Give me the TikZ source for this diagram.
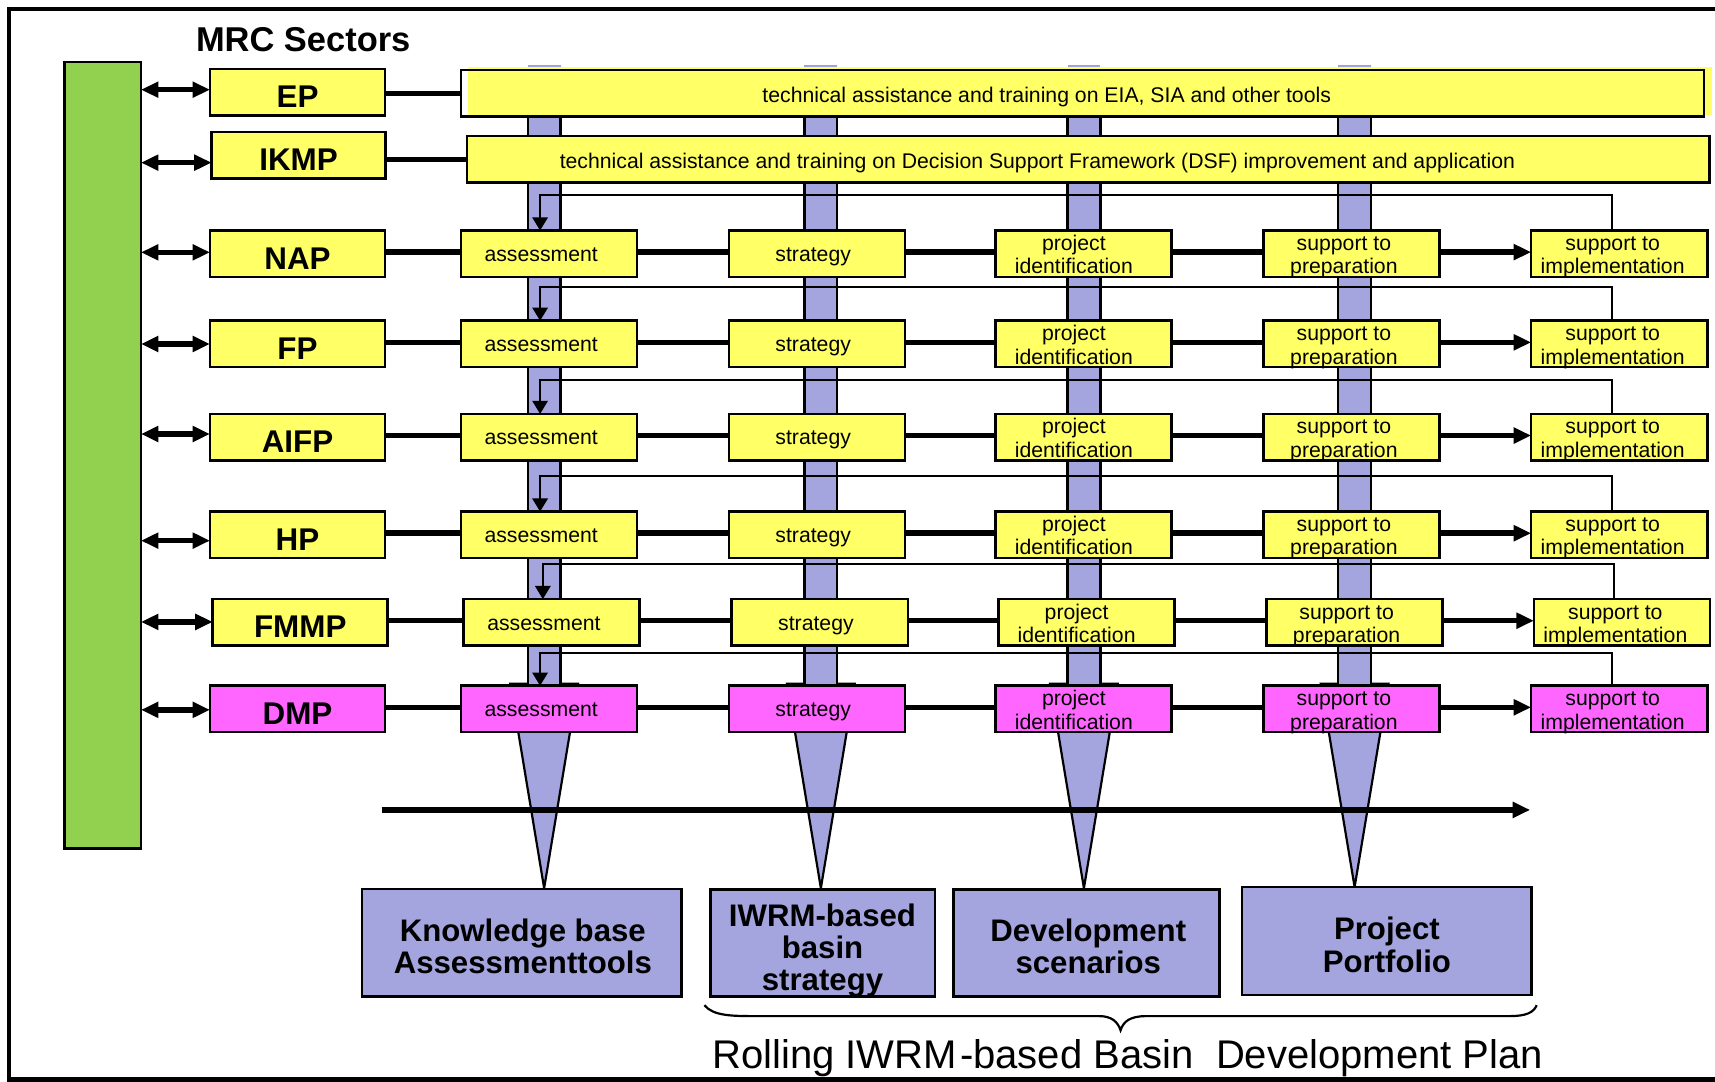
\documentclass[tikz,border=0pt]{standalone}
\usepackage{fontspec}
\setmainfont{Liberation Sans}
\usetikzlibrary{arrows.meta}
\definecolor{stepyellow}{RGB}{255,255,102}
\definecolor{stepmagenta}{RGB}{255,102,255}
\definecolor{productblue}{RGB}{164,164,222}
\definecolor{sectorgreen}{RGB}{146,208,80}
\newcommand\twolines[2]{\begin{tabular}[t]{@{}c@{}}#1\\#2\end{tabular}}
\newcommand\threelines[3]{\begin{tabular}[t]{@{}c@{}}#1\\#2\\#3\end{tabular}}

\begin{document}
\begin{tikzpicture}[x=1pt, y=-1pt,
  stepbox/.style={draw, line width=2.3pt, fill=stepyellow, minimum width=161pt,
    minimum height=42.5pt, inner sep=0pt, outer sep=0pt},
  sectorbox/.style={stepbox, minimum width=160pt},
  banner/.style={draw, line width=2.3pt, minimum height=42.5pt, inner sep=0pt, outer sep=0pt},
  steptext/.style={font=\fontsize{19.4}{21.3}\selectfont, inner sep=0pt, anchor=base},
  sectortext/.style={font=\fontsize{28.7}{30}\selectfont\bfseries, inner sep=0pt, anchor=base},
  productbox/.style={draw, line width=2.4pt, fill=productblue, inner sep=0pt, outer sep=0pt},
  producttext/.style={font=\fontsize{28.5}{29}\selectfont\bfseries, inner sep=0pt, anchor=base},
  link/.style={line width=5pt},
  linkarrow/.style={line width=5pt, -{Triangle[length=16pt,width=14pt]}},
  twoway/.style={line width=5pt, {Triangle[length=16pt,width=14pt]}-{Triangle[length=16pt,width=14pt]}},
  loopback/.style={line width=1.9pt, -{Triangle[length=12pt,width=14pt]}},
]
\useasboundingbox (0,0) rectangle (1568,989);

% outer frame, open on the right
\draw[line width=4pt] (1575,8) -- (8,8) -- (8,987) -- (1575,987);

% title
\node[anchor=base west, inner sep=0pt, font=\fontsize{31.5}{33}\selectfont\bfseries] (title) at (179,47.2) {MRC Sectors};

% green sector column
\node[draw, line width=2.2pt, fill=sectorgreen, minimum width=70pt, minimum height=719pt,
  inner sep=0pt, outer sep=0pt] (green) at (93.9,416.4) {};

% funnels from the columns down to the products
\foreach \cx/\ty in {497.5/812, 750.5/812, 991/812, 1238.5/811}
  \filldraw[fill=productblue, line width=2pt] (\cx-31,625) -- (\cx+31,625) -- (\cx,\ty) -- cycle;

% vertical column bars
\foreach \cx in {497.5, 750.5, 991, 1238.5} {
  \fill[productblue] (\cx-15,60) rectangle (\cx+15,627);
  \draw[line width=2.2pt] (\cx-15,61) -- (\cx-15,627) (\cx+15,61) -- (\cx+15,627);
  \draw[line width=1.2pt, black!35] (\cx-15,60) -- (\cx+15,60);
}

% cross-cutting banners
\fill[stepyellow] (427.6,61.7) rectangle (1565,104.7);
\node[banner, minimum width=1136.5pt] (epbar) at (989.75,85.25) {};
\node[steptext] (epbar-t) at (957,93.5) {technical assistance and training on EIA, SIA and other tools};
\node[banner, fill=stepyellow, minimum width=1136pt] (ikmpbar) at (995,145.75) {};
\node[steptext] (ikmpbar-t) at (948.5,153.9) {technical assistance and training on Decision Support Framework (DSF) improvement and application};

\node[sectorbox] (ep) at (272,84.4) {};
\node[sectortext] (ep-t) at ([yshift=-35.3pt]ep.north) {EP};
\node[sectorbox, minimum width=159pt] (ikmp) at (273,141.9) {};
\node[sectortext] (ikmp-t) at ([yshift=-35.3pt]ikmp.north) {IKMP};
\draw[link] (ep.east |- epbar.west) -- (epbar.west);
\draw[link] (ikmp.east |- ikmpbar.west) -- (ikmpbar.west);
\draw[twoway] (green.east |- 0,82) -- (ep.west |- 0,82);
\draw[twoway] (green.east |- 0,148.7) -- (ikmp.west |- 0,148.7);

% sector rows
\foreach \rw/\yc/\dx/\fc/\lab/\ay/\fy in {
    nap/232/0/stepyellow/NAP/230.7/178,
    fp/314.5/0/stepyellow/FP/314.5/262,
    aifp/399.7/0/stepyellow/AIFP/396.8/347,
    hp/489/0/stepyellow/HP/494.3/435,
    fmmp/569/2.5/stepyellow/FMMP/568.6/516,
    dmp/648.2/0/stepmagenta/DMP/649/597} {
  \node[sectorbox, fill=\fc] (\rw) at (272+\dx,\yc) {};
  \node[sectortext] (\rw-t) at ([yshift=-35.3pt]\rw.north) {\lab};
  \foreach \ci/\cx in {1/501.8, 2/747, 3/990.8, 4/1235.7, 5/1480.4}
    \node[stepbox, fill=\fc] (\rw\ci) at (\cx+\dx,\yc) {};
  \foreach \ci/\tx/\sh/\bl in {1/{assessment}/-7/28.3, 2/{strategy}/-3.5/28.3,
      3/{\twolines{project}{identification}}/-9/18.3,
      4/{\twolines{support to}{preparation}}/-7/18.3,
      5/{\twolines{support to}{implementation}}/-6/18.3}
    \node[steptext] (\rw\ci-t) at ([xshift=\sh pt, yshift=-\bl pt]\rw\ci.north) {\tx};
  \draw[link] ([yshift=1.5pt]\rw.east) -- ([yshift=1.5pt]\rw1.west);
  \draw[link] ([yshift=1.5pt]\rw1.east) -- ([yshift=1.5pt]\rw2.west);
  \draw[link] ([yshift=1.5pt]\rw2.east) -- ([yshift=1.5pt]\rw3.west);
  \draw[link] ([yshift=1.5pt]\rw3.east) -- ([yshift=1.5pt]\rw4.west);
  \draw[linkarrow] ([yshift=1.5pt]\rw4.east) -- ([yshift=1.5pt]\rw5.west);
  \draw[twoway] (green.east |- 0,\ay) -- (\rw.west |- 0,\ay);
  \coordinate (\rw-back) at ([xshift=-7pt]\rw5.north);
  \draw[loopback] (\rw-back) -- (\rw-back |- 0,\fy) -| ([xshift=-8pt]\rw1.north);
}

% time line
\coordinate (tl-start) at (349,740.5);
\coordinate (tl-end) at (1399,740.5);
\draw[line width=5pt, -{Triangle[length=16pt,width=14pt]}] (tl-start) -- (tl-end);

% products
\node[productbox, minimum width=292pt, minimum height=98.2pt] (kb) at (477,861.9) {};
\node[producttext] (kb-t) at (478,861) {\twolines{Knowledge base}{Assessmenttools}};
\node[productbox, minimum width=205.3pt, minimum height=98pt] (strat) at (752.35,862) {};
\node[producttext] (strat-t) at (752,847) {\threelines{IWRM-based}{basin}{strategy}};
\node[productbox, minimum width=243pt, minimum height=98pt] (scen) at (993.5,862) {};
\node[producttext] (scen-t) at (995,861) {\twolines{Development}{scenarios}};
\node[productbox, minimum width=264.5pt, minimum height=98.7pt] (port) at (1267.75,860.35) {};
\node[producttext] (port-t) at (1268,859.4) {\twolines{Project}{Portfolio}};

% brace over the rolling plan
\draw[line width=2pt] (644,919) .. controls (652,929) and (670,929) .. (692,929) -- (1005,929)
  .. controls (1016,929) and (1022,934) .. (1024.5,942)
  .. controls (1027,934) and (1033,929) .. (1048,929) -- (1380,929)
  .. controls (1395,929) and (1402,926) .. (1405,919);
\node[anchor=base west, inner sep=0pt, font=\fontsize{36.6}{38}\selectfont] (plan) at (651,977)
  {Rolling IWRM\kern3pt-based Basin\ \ Development Plan};
\end{tikzpicture}
\end{document}
